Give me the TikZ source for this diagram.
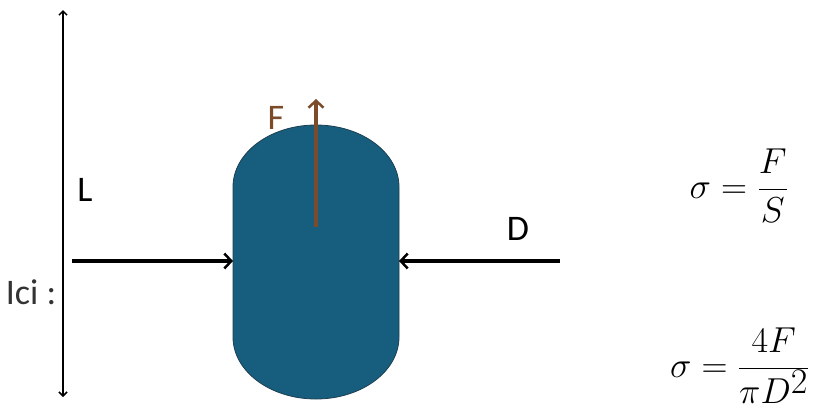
\documentclass[tikz,border=0pt]{standalone}
\usepackage{fontspec}
\setsansfont{Carlito}
\usetikzlibrary{arrows.meta}
\definecolor{capsule}{HTML}{175E7E}
\definecolor{capedge}{HTML}{1C3E50}
\definecolor{force}{HTML}{7B4B2A}
\tikzset{
    lbl/.style={inner sep=0pt, font=\sffamily\fontsize{36}{40}\selectfont},
    formula/.style={inner sep=0pt, font=\fontsize{33}{38}\selectfont},
    push/.style={black, line width=3.5pt, -{Straight Barb[length=7pt,width=15pt,line width=2.5pt]}},
}
\begin{document}
\begin{tikzpicture}[x=1pt,y=-1pt]
    \useasboundingbox (0,0) rectangle (816,416);
    % length L
    \coordinate (ltop) at (63,10);
    \coordinate (lbot) at (63,397);
    \draw[line width=1.5pt, {Straight Barb[length=4pt,width=8pt]}-{Straight Barb[length=4pt,width=8pt]}] (ltop) -- (lbot);
    \node[lbl] (L) at (85,190) {L};
    \node[lbl, text=black!80] (ici) at (31,292) {Ici :};
    % capsule
    \filldraw[fill=capsule, draw=capedge, line width=0.8pt]
        (233,187) arc[start angle=180, end angle=0, x radius=83, y radius=-62]
        -- (399,337) arc[start angle=0, end angle=-180, x radius=83, y radius=-62]
        -- cycle;
    \coordinate (cl) at (233,261);
    \coordinate (cr) at (399,261);
    \coordinate (cc) at (316,227);
    % forces
    \coordinate (pl) at (72,261);
    \coordinate (pr) at (560,261);
    \coordinate (ftip) at (316,99);
    \draw[push] (pl) -- (cl);
    \draw[push] (pr) -- (cr);
    \draw[push, force] (cc) -- (ftip);
    \node[lbl, text=force] (F) at (276,118) {F};
    \node[lbl] (D) at (518,229) {D};
    % formulas
    \node[formula] (s1) at (739,186) {\scalebox{1.45}{$\displaystyle \sigma = \frac{F}{S}$}};
    \node[formula] (s2) at (740,366) {\scalebox{1.45}{$\displaystyle \sigma = \frac{4F}{\pi D^2}$}};
\end{tikzpicture}
\end{document}
